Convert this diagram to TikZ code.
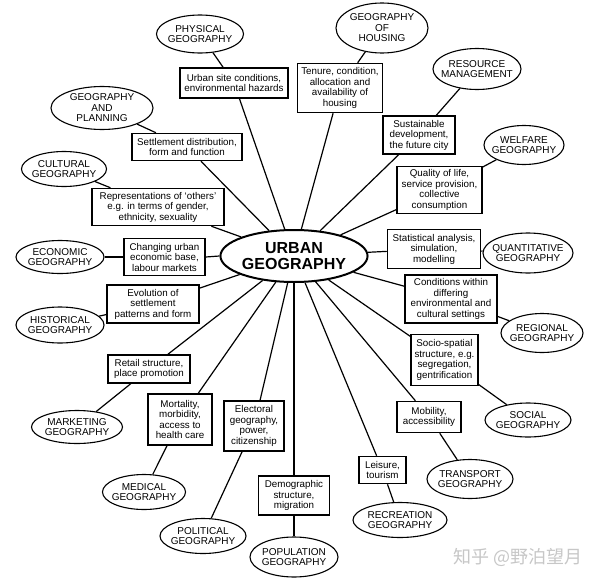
\documentclass[tikz,border=0pt]{standalone}
\usepackage{fontspec}
\setmainfont{Liberation Sans}
\newfontfamily\cjkfont{Noto Sans CJK SC}
\usetikzlibrary{shapes.geometric}
\tikzset{
  geo/.style={draw, ellipse, line width=1.1pt, fill=white, inner sep=0pt},
  lbl/.style={align=center, font=\fontsize{10}{10.5}\selectfont, inner sep=0pt},
  topic/.style={draw, rectangle, line width=1.5pt, fill=white, align=center,
    font=\fontsize{9.8}{10.5}\selectfont, inner sep=1pt},
  conn/.style={line width=1.2pt},
}
\newcommand{\geonode}[6]{%
  \node[geo, minimum width=#4pt, minimum height=#5pt,
        label={[lbl]center:{#6}}] (#1) at (#2,#3) {};}
\newcommand{\topicnode}[6]{%
  \node[topic, minimum width=#4pt, minimum height=#5pt] (#1) at (#2,#3) {#6};}
\begin{document}
\begin{tikzpicture}[x=1pt, y=-1pt]
\useasboundingbox (0,0) rectangle (600,581);
\fill[white] (0,0) rectangle (600,581);

% centre
\node[draw, ellipse, line width=2pt, fill=white, inner sep=0pt,
      minimum width=128pt, minimum height=52pt, align=center,
      font=\bfseries\fontsize{16}{16}\selectfont] (urban) at (294,256) {URBAN\\GEOGRAPHY};

% outer ellipses
\geonode{phys}{200}{34}{87}{38}{PHYSICAL\\GEOGRAPHY}
\geonode{housing}{382}{28}{92}{50}{GEOGRAPHY\\OF\\HOUSING}
\geonode{resource}{477}{69}{88}{41}{RESOURCE\\MANAGEMENT}
\geonode{welfare}{524}{145}{80}{39}{WELFARE\\GEOGRAPHY}
\geonode{planning}{102}{108}{102}{43}{GEOGRAPHY\\AND\\PLANNING}
\geonode{cultural}{64}{169}{85}{35}{CULTURAL\\GEOGRAPHY}
\geonode{economic}{60}{257}{88}{33}{ECONOMIC\\GEOGRAPHY}
\geonode{historical}{60}{325}{88}{36}{HISTORICAL\\GEOGRAPHY}
\geonode{quant}{528}{253}{90}{40}{QUANTITATIVE\\GEOGRAPHY}
\geonode{regional}{542}{333}{82}{39}{REGIONAL\\GEOGRAPHY}
\geonode{marketing}{77}{427}{91}{33}{MARKETING\\GEOGRAPHY}
\geonode{medical}{144}{492}{83}{35}{MEDICAL\\GEOGRAPHY}
\geonode{political}{203}{536}{86}{35}{POLITICAL\\GEOGRAPHY}
\geonode{population}{294}{557}{88}{40}{POPULATION\\GEOGRAPHY}
\geonode{recreation}{400}{520}{94}{35}{RECREATION\\GEOGRAPHY}
\geonode{transport}{470}{479}{86}{39}{TRANSPORT\\GEOGRAPHY}
\geonode{social}{528}{420}{86}{34}{SOCIAL\\GEOGRAPHY}

% topic boxes
\topicnode{tsite}{234}{83}{108}{30}{Urban site conditions,\\environmental hazards}
\topicnode{thousing}{340}{88}{85}{49}{Tenure, condition,\\allocation and\\availability of\\housing}
\topicnode{tsettle}{187}{147}{110}{27}{Settlement distribution,\\form and function}
\topicnode{tsustain}{419}{135}{72}{38}{Sustainable\\development,\\the future city}
\topicnode{tquality}{439.5}{190}{85}{47}{Quality of life,\\service provision,\\collective\\consumption}
\topicnode{trep}{158}{207}{132}{37}{Representations of ‘others’\\e.g. in terms of gender,\\ethnicity, sexuality}
\topicnode{tchange}{164.5}{257}{81}{37}{Changing urban\\economic base,\\labour markets}
\topicnode{tevol}{153}{304}{92}{38}{Evolution of\\settlement\\patterns and form}
\topicnode{tstat}{434}{249}{93}{39}{Statistical analysis,\\simulation,\\modelling}
\topicnode{tcond}{451}{299}{92}{48}{Conditions within\\differing\\environmental and\\cultural settings}
\topicnode{tsocio}{444.5}{360}{67}{51}{Socio-spatial\\structure, e.g.\\segregation,\\gentrification}
\topicnode{tretail}{149}{369}{82}{28}{Retail structure,\\place promotion}
\topicnode{tmort}{180}{419.5}{64}{51}{Mortality,\\morbidity,\\access to\\health care}
\topicnode{telect}{254}{426}{60}{50}{Electoral\\geography,\\power,\\citizenship}
\topicnode{tdemo}{294}{495.5}{71}{39}{Demographic\\structure,\\migration}
\topicnode{tleis}{382.5}{470}{47}{27}{Leisure,\\tourism}
\topicnode{tmob}{429}{417}{64}{31}{Mobility,\\accessibility}

% connectors
\draw[conn] (phys) -- (tsite) -- (urban);
\draw[conn] (housing) -- (thousing) -- (urban);
\draw[conn] (resource) -- (tsustain) -- (urban);
\draw[conn] (welfare) -- (tquality) -- (urban);
\draw[conn] (planning) -- (tsettle) -- (urban);
\draw[conn] (cultural) -- (trep) -- (urban);
\draw[conn] (economic.east) -- (tchange.west);
\draw[conn] (tchange.east) -- (urban.west);
\draw[conn] (historical) -- (tevol) -- (urban);
\draw[conn] (quant) -- (tstat) -- (urban);
\draw[conn] (regional) -- (tcond) -- (urban);
\draw[conn] (social) -- (tsocio) -- (urban);
\draw[conn] (marketing) -- (tretail) -- (urban);
\draw[conn] (medical) -- (tmort) -- (urban);
\draw[conn] (political) -- (telect) -- (urban);
\draw[conn] (population.north) -- (tdemo.south);
\draw[conn] (tdemo.north) -- (urban.south);
\draw[conn] (recreation) -- (tleis) -- (urban);
\draw[conn] (transport) -- (tmob) -- (urban);

% watermark
\node[text=black!22, font=\cjkfont\fontsize{18}{18}\selectfont, inner sep=0pt] (wm) at (518,557) {知乎 @野泊望月};
\end{tikzpicture}
\end{document}
